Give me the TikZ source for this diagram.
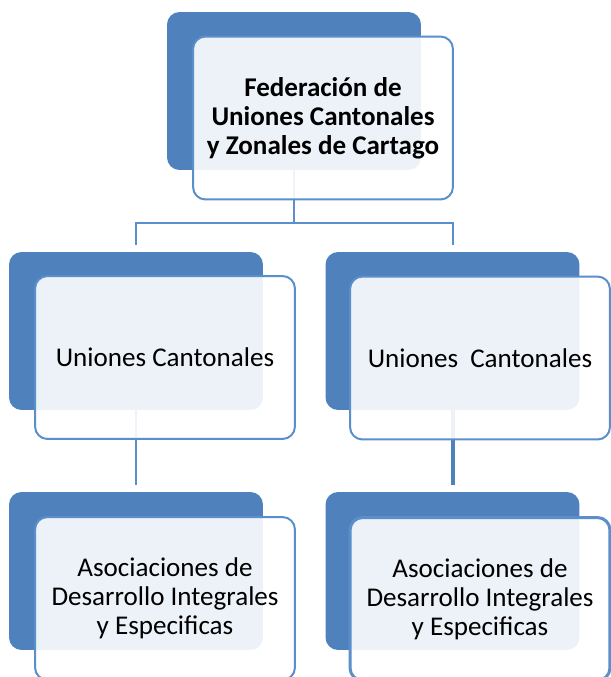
\documentclass[tikz,border=0pt]{standalone}
\usepackage{fontspec}
\setmainfont{Carlito}
\usetikzlibrary{positioning, backgrounds}
\definecolor{orgDark}{HTML}{4F81BD}
\definecolor{orgLine}{HTML}{5B8FCB}

\begin{document}
\begin{tikzpicture}[x=0.02cm,y=-0.02cm,
  backbox/.style={fill=orgDark, rounded corners=0.25cm, minimum width=5.08cm, minimum height=3.16cm, inner sep=0pt},
  frontbox/.style={draw=orgLine, line width=0.04cm, fill=white, fill opacity=0.9, text opacity=1, rounded corners=0.25cm, minimum width=5.2cm, minimum height=3.26cm, inner sep=0pt, align=center, font=\fontsize{15.4}{16.6}\selectfont},
  link/.style={orgLine, line width=0.04cm}]
\useasboundingbox (0,0) rectangle (610,677);

% top level
\node[backbox] (fedBack) at (294,91) {};
\node[frontbox, font=\fontsize{15.4}{16.6}\selectfont\bfseries] (fed) at (323,118) {Federación de\\Uniones Cantonales\\y Zonales de Cartago};

% middle level
\node[backbox] (ucLeftBack) at (136,331) {};
\node[frontbox] (ucLeft) at (165,357.5) {Uniones Cantonales};
\node[backbox] (ucRightBack) at (452.5,331) {};
\node[frontbox] (ucRight) at (480,358) {Uniones\ \ Cantonales};

% bottom level
\node[backbox] (asocLeftBack) at (136,571) {};
\node[frontbox] (asocLeft) at (165,598.5) {Asociaciones de\\Desarrollo Integrales\\y Especificas};
\node[backbox] (asocRightBack) at (452.5,571) {};
\node[frontbox, line width=0.06cm] (asocRight) at (480,599) {Asociaciones de\\Desarrollo Integrales\\y Especificas};

\coordinate (split) at (294,223);
\begin{pgfonlayer}{background}
\draw[link, shorten >=0.14cm] (fedBack.center) -- (split) -| (ucLeftBack.north);
\draw[link, shorten >=0.14cm] (split) -| (ucRightBack.north);
\draw[link, shorten >=0.14cm] (ucLeftBack.center) -- (asocLeftBack.north);
\draw[link, orgDark, line width=0.08cm, shorten >=0.14cm] (ucRightBack.center) -- (asocRightBack.north);
\end{pgfonlayer}
\end{tikzpicture}
\end{document}
